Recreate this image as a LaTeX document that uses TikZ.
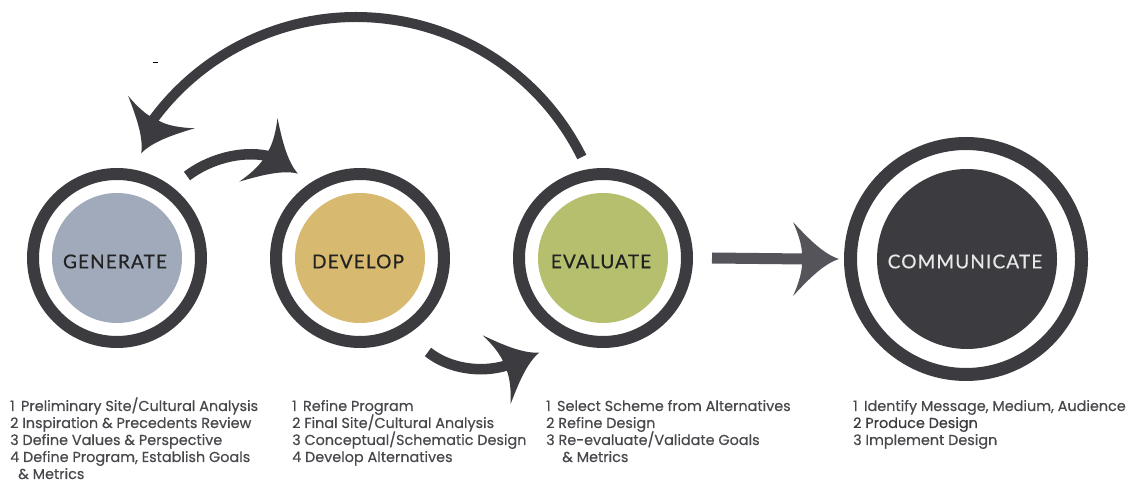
\documentclass[tikz,border=0pt]{standalone}
\usepackage{fontspec}
\setmainfont{Poppins}[FakeBold=0.35]
\newfontfamily\labelfont[LetterSpace=6,FakeBold=0.5]{Lato}
\usetikzlibrary{calc}
\definecolor{ringc}{HTML}{3C3B40}
\definecolor{arrowc}{HTML}{55545A}
\definecolor{genfill}{HTML}{A0AABB}
\definecolor{devfill}{HTML}{D7B96F}
\definecolor{evafill}{HTML}{B5BF6E}
\definecolor{labc}{HTML}{222222}
\definecolor{commlab}{HTML}{E8E8E8}
\definecolor{textc}{HTML}{48474C}
\tikzset{
  swept/.pic={\fill (36,0) .. controls (20,5) and (4,22) .. (-10,37)
      .. controls (-4,24) and (-1,12) .. (-1,5) -- (-1,-5)
      .. controls (-1,-12) and (-4,-24) .. (-10,-37)
      .. controls (4,-22) and (20,-5) .. (36,0) -- cycle;}
}
\begin{document}
\begin{tikzpicture}[x=1pt,y=1pt,
  ring/.style={circle,draw=ringc,line width=12pt,minimum size=168pt,inner sep=0pt},
  bigring/.style={circle,draw=ringc,line width=13pt,minimum size=231pt,inner sep=0pt},
  core/.style={circle,inner sep=0pt,minimum size=130pt},
  lbl/.style={font=\labelfont\fontsize{19}{19}\selectfont,text=labc,inner sep=0pt},
  item/.style={anchor=base west,inner sep=0pt,font=\fontsize{14.4}{17}\selectfont,text=textc},
  flow/.style={draw=ringc,line width=10.5pt}]
\useasboundingbox (0,0) rectangle (1135,487);
\fill[white] (0,0) rectangle (1135,487);

% stages
\node[ring] (gR) at (117,229) {};
\node[core,fill=genfill] (gC) at (117,229) {};
\node[lbl] (gL) at (115,225.5) {GENERATE};

\node[ring] (dR) at (360,229) {};
\node[core,fill=devfill] (dC) at (360,229) {};
\node[lbl] (dL) at (358,225.5) {DEVELOP};

\node[ring] (eR) at (603,229) {};
\node[core,fill=evafill] (eC) at (603,229) {};
\node[lbl] (eL) at (601,225.5) {EVALUATE};

\node[bigring] (cR) at (966,228) {};
\node[core,fill=ringc,minimum size=180pt] (cC) at (967,228) {};
\node[lbl,text=commlab] (cL) at (965,225.5) {COMMUNICATE};

% connector end points
\coordinate (bigS) at (581.8,330);
\coordinate (smS) at (187,311);
\coordinate (smE) at (268,331);
\coordinate (botS) at (428,135);
\coordinate (botE) at (508,122);

% big return arc Evaluate -> Generate
\draw[flow,line width=10pt] (bigS) arc[start angle=26.4,end angle=143.7,radius=252];
\pic[color=ringc,rotate=244] at (157,366) {swept};

% Generate -> Develop
\draw[flow] (smS) .. controls (208,327) and (240,337) .. (smE);
\pic[color=ringc,rotate=-31] at (267,332) {swept};

% Develop -> Evaluate
\draw[flow] (botS) .. controls (448,119) and (480,113) .. (botE);
\pic[color=ringc,rotate=22] at (506,121) {swept};

% Evaluate -> Communicate
\draw[draw=arrowc,line width=11pt] ($(eR.east)+(19,0)$) -- ($(cR.west)+(-39,0)$);
\pic[color=arrowc] at ($(cR.west)+(-41,0)$) {swept};

% small stray mark
\draw[black,line width=1pt] (152.5,424) -- (157.5,424);

% lists
\node[item] (g1) at (10,76) {1\, Preliminary Site/Cultural Analysis};
\node[item] (g2) at (10,59) {2 Inspiration \& Precedents Review};
\node[item] (g3) at (10,42) {3 Define Values \& Perspective};
\node[item] (g4) at (10,25) {4 Define Program, Establish Goals};
\node[item] (g5) at (18,8) {\& Metrics};

\node[item] (d1) at (292,76) {1\, Refine Program};
\node[item] (d2) at (292,59) {2 Final Site/Cultural Analysis};
\node[item] (d3) at (292,42) {3 Conceptual/Schematic Design};
\node[item] (d4) at (292,25) {4 Develop Alternatives};

\node[item] (e1) at (546,76) {1\, Select Scheme from Alternatives};
\node[item] (e2) at (546,59) {2 Refine Design};
\node[item] (e3) at (546,42) {3 Re-evaluate/Validate Goals};
\node[item] (e4) at (562,25) {\& Metrics};

\node[item] (c1) at (853,76) {1\, Identify Message, Medium, Audience};
\node[item,text=ringc] (c2) at (853,59) {2 Produce Design};
\node[item] (c3) at (853,42) {3 Implement Design};
\end{tikzpicture}
\end{document}
